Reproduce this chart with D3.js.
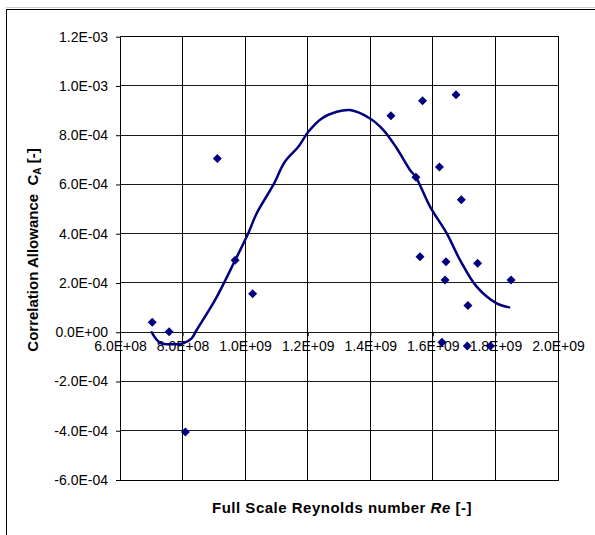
<!DOCTYPE html>
<html>
<head>
<meta charset="utf-8">
<script src="https://cdn.jsdelivr.net/npm/d3@7"></script>
<style>
  body { margin: 0; background: #fff; }
  text { font-family: "Liberation Sans", Arial, sans-serif; white-space: pre; }
</style>
</head>
<body>
<svg id="chart" width="595" height="535"></svg>
<script>
// measured points (Re, C_A)
const reData = [7.03e8, 7.57e8, 8.09e8, 9.11e8, 9.68e8, 1.024e9, 1.466e9, 1.567e9, 1.674e9,
  1.621e9, 1.546e9, 1.691e9, 1.559e9, 1.642e9, 1.743e9, 1.639e9, 1.850e9, 1.712e9,
  1.629e9, 1.710e9, 1.784e9];
const caData = [4.1e-5, 2e-6, -4.05e-4, 7.05e-4, 2.92e-4, 1.56e-4, 8.79e-4, 9.40e-4, 9.64e-4,
  6.71e-4, 6.29e-4, 5.38e-4, 3.07e-4, 2.86e-4, 2.80e-4, 2.12e-4, 2.12e-4, 1.09e-4,
  -4.1e-5, -5.6e-5, -5.6e-5];

// smoothed trend line
const trendRe = [7.01e8, 7.28e8, 7.70e8, 8.02e8, 8.29e8, 8.45e8, 9.04e8, 9.68e8, 1.010e9, 1.037e9,
  1.090e9, 1.127e9, 1.170e9, 1.202e9, 1.245e9, 1.293e9, 1.335e9, 1.399e9, 1.442e9, 1.484e9,
  1.527e9, 1.546e9, 1.591e9, 1.644e9, 1.687e9, 1.740e9, 1.804e9, 1.844e9];
const trendCa = [0, -4.3e-5, -4.9e-5, -4.5e-5, -2.5e-5, 9e-6, 1.31e-4, 2.92e-4, 4.02e-4, 4.83e-4,
  5.98e-4, 6.92e-4, 7.53e-4, 8.14e-4, 8.68e-4, 8.95e-4, 9.02e-4, 8.68e-4, 8.21e-4, 7.48e-4,
  6.59e-4, 6.29e-4, 5.10e-4, 4.02e-4, 2.93e-4, 1.85e-4, 1.17e-4, 1.01e-4];

const xTicks = [6e8, 8e8, 1e9, 1.2e9, 1.4e9, 1.6e9, 1.8e9, 2e9];
const yTicks = [-6e-4, -4e-4, -2e-4, 0, 2e-4, 4e-4, 6e-4, 8e-4, 1e-3, 1.2e-3];

const svg = d3.select('#chart');
const plot = { left: 120, right: 558, top: 36.7, bottom: 480 };
const navy = '#000080';

// outer frame
svg.append('line').attr('x1', 6).attr('x2', 595).attr('y1', 7.5).attr('y2', 7.5)
  .attr('stroke', '#d0d0d0');
svg.append('rect').attr('x', 6.5).attr('y', 9.5).attr('width', 600).attr('height', 540)
  .attr('fill', 'none').attr('stroke', '#000');

const x = d3.scaleLinear().domain([6e8, 2e9]).range([plot.left, plot.right]);
const y = d3.scaleLinear().domain([-6e-4, 1.2e-3]).range([plot.bottom, plot.top]);

// format like Excel scientific: 1.2E-03
function sci(v) {
  if (v === 0) return '0.0E+00';
  let s = v.toExponential(1).toUpperCase();   // 1.2E-3
  return s.replace(/E([+-])(\d+)$/, (m, sg, d) => 'E' + sg + (d.length < 2 ? '0' + d : d));
}

// grid
const grid = svg.append('g').attr('shape-rendering', 'crispEdges');
grid.selectAll('.hg').data(yTicks).join('line')
  .attr('x1', plot.left).attr('x2', plot.right)
  .attr('y1', d => y(d)).attr('y2', d => y(d))
  .attr('stroke', '#1a1a1a').attr('stroke-width', 1);
grid.selectAll('.vg').data(xTicks).join('line')
  .attr('y1', plot.top).attr('y2', plot.bottom)
  .attr('x1', d => x(d)).attr('x2', d => x(d))
  .attr('stroke', '#000').attr('stroke-width', 1);
grid.append('rect')
  .attr('x', plot.left).attr('y', plot.top)
  .attr('width', plot.right - plot.left).attr('height', plot.bottom - plot.top)
  .attr('fill', 'none').attr('stroke', '#000');

// y axis
const yAxis = d3.axisLeft(y).tickValues(yTicks).tickFormat(sci).tickSize(4).tickPadding(8);
const gy = svg.append('g').attr('transform', `translate(${plot.left},0)`).call(yAxis);
gy.select('.domain').remove();
gy.selectAll('text').attr('font-size', 14).attr('fill', '#000')
  .attr('font-family', '"Liberation Sans", Arial, sans-serif');
gy.selectAll('line').attr('stroke', '#000');

// x axis at zero
const xAxis = d3.axisBottom(x).tickValues(xTicks).tickFormat(sci).tickSize(4).tickPadding(5);
const gx = svg.append('g').attr('transform', `translate(0,${y(0)})`).call(xAxis);
gx.select('.domain').remove();
gx.selectAll('text').attr('font-size', 14).attr('fill', '#000')
  .attr('font-family', '"Liberation Sans", Arial, sans-serif');
gx.selectAll('line').attr('stroke', '#000');

// trend line
const trend = trendRe.map((d, i) => [d, trendCa[i]]);
svg.append('path').datum(trend)
  .attr('fill', 'none').attr('stroke', navy).attr('stroke-width', 2.5)
  .attr('stroke-linejoin', 'round').attr('stroke-linecap', 'round')
  .attr('d', d3.line().x(d => x(d[0])).y(d => y(d[1])).curve(d3.curveCatmullRom.alpha(0.5)));

// markers
const pts = reData.map((d, i) => [d, caData[i]]);
svg.selectAll('.pt').data(pts).join('path')
  .attr('transform', d => `translate(${x(d[0])},${y(d[1])})`)
  .attr('d', 'M0,-4.5L4.5,0L0,4.5L-4.5,0Z')
  .attr('fill', navy);

// axis titles
const xt = svg.append('text').attr('x', 342).attr('y', 513).attr('text-anchor', 'middle')
  .attr('font-size', 15).attr('font-weight', 'bold').attr('letter-spacing', 0.5);
xt.append('tspan').text('Full Scale Reynolds number ');
xt.append('tspan').attr('font-style', 'italic').text('Re');
xt.append('tspan').text(' [-]');

const yt = svg.append('text').attr('transform', 'translate(38,250) rotate(-90)')
  .attr('text-anchor', 'middle').attr('font-size', 15).attr('font-weight', 'bold');
yt.append('tspan').text('Correlation Allowance  C');
yt.append('tspan').attr('font-size', 10).attr('dy', 3).text('A');
yt.append('tspan').attr('dy', -3).text(' [-]');
</script>
</body>
</html>
